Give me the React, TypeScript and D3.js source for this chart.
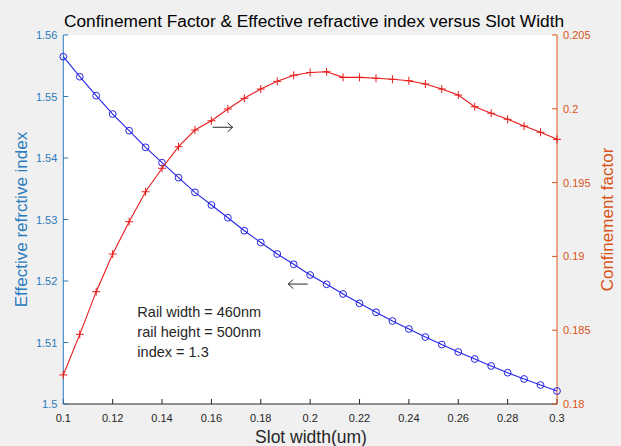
import React from "react";
import * as d3 from "d3";

const slotWidth: number[] = Array.from({ length: 31 }, (_, i) => +(0.1 + (i * 0.2) / 30).toFixed(5));

const effIndex: number[] = [
  1.55647, 1.55322, 1.55013, 1.54715, 1.54444, 1.54174, 1.53924, 1.5368, 1.53442, 1.53236,
  1.53029, 1.52818, 1.52626, 1.52439, 1.52272, 1.52098, 1.51946, 1.51789, 1.51637, 1.51491,
  1.5135, 1.5122, 1.51089, 1.50967, 1.50846, 1.50732, 1.50618, 1.50509, 1.50407, 1.50309,
  1.50211,
];

const confFactor: number[] = [
  0.18197, 0.18472, 0.18761, 0.19016, 0.19235, 0.19438, 0.19597, 0.19743, 0.19856, 0.19919,
  0.19999, 0.20071, 0.20134, 0.20186, 0.20227, 0.20246, 0.20251, 0.20213, 0.20213, 0.20207,
  0.202, 0.2019, 0.20168, 0.20134, 0.20093, 0.20014, 0.1997, 0.19929, 0.19883, 0.19841,
  0.19793,
];

const xTicks: number[] = [0.1, 0.12, 0.14, 0.16, 0.18, 0.2, 0.22, 0.24, 0.26, 0.28, 0.3];
const yLeftTicks: number[] = [1.5, 1.51, 1.52, 1.53, 1.54, 1.55, 1.56];
const yRightTicks: number[] = [0.18, 0.185, 0.19, 0.195, 0.2, 0.205];

const titleText = "Confinement Factor & Effective refractive index versus Slot Width";
const xLabel = "Slot width(um)";
const yLeftLabel = "Effective refrctive index";
const yRightLabel = "Confinement factor";
const noteLines: string[] = ["Rail width = 460nm", "rail height = 500nm", "index = 1.3"];

// annotation positions in data coordinates (left axis)
const arrowRight = { x1: 0.1605, x2: 0.1686, y: 1.545 };
const arrowLeft = { x1: 0.1911, x2: 0.199, y: 1.5195 };
const notePos = { x: 0.13, y: 1.5142 };

const W = 621;
const H = 446;
const L = 63.3, R = 557, T = 35, B = 404;

const FONT = "'Liberation Sans', Arial, Helvetica, sans-serif";
const BLUE_AX = "#2a7bbd";
const ORANGE_AX = "#d95319";
const DARK = "#262626";
const BLUE = "#2626e6";
const RED = "#e81a1a";

export default function App() {
  const x = d3.scaleLinear().domain([0.1, 0.3]).range([L, R]);
  const yL = d3.scaleLinear().domain([1.5, 1.56]).range([B, T]);
  const yR = d3.scaleLinear().domain([0.18, 0.205]).range([B, T]);

  const blueLine = d3
    .line<number>()
    .x((_, i) => x(slotWidth[i]))
    .y((d) => yL(d))(effIndex) as string;
  const redLine = d3
    .line<number>()
    .x((_, i) => x(slotWidth[i]))
    .y((d) => yR(d))(confFactor) as string;

  const tl = 5;

  const arrowPath = (a: { x1: number; x2: number; y: number }, dir: number) => {
    const y = yL(a.y);
    const x1 = x(a.x1);
    const x2 = x(a.x2);
    const tip = dir > 0 ? x2 : x1;
    const back = dir > 0 ? tip - 5 : tip + 5;
    return `M${x1},${y}L${x2},${y}M${back},${y - 4.5}L${tip},${y}L${back},${y + 4.5}`;
  };

  return (
    <svg
      width={W}
      height={H}
      style={{ position: "absolute", left: 0, top: 0, background: "#f0f0f0" }}
      fontFamily={FONT}
    >
      <rect x={0} y={0} width={W} height={H} fill="#f0f0f0" />
      <rect x={L} y={T} width={R - L} height={B - T} fill="#ffffff" />

      {/* title */}
      <text x={314} y={27} textAnchor="middle" fontSize={17.3} fill="#000">
        {titleText}
      </text>

      {/* bottom axis */}
      <line x1={L} x2={R} y1={B} y2={B} stroke={DARK} strokeWidth={1} />
      {xTicks.map((t) => (
        <g key={"xt" + t}>
          <line x1={x(t)} x2={x(t)} y1={B} y2={B - tl} stroke={DARK} strokeWidth={1} />
          <text x={x(t)} y={B + 17.5} textAnchor="middle" fontSize={11} fill={DARK}>
            {String(t)}
          </text>
        </g>
      ))}
      <text x={311} y={443} textAnchor="middle" fontSize={17.5} fill={DARK}>
        {xLabel}
      </text>

      {/* left axis */}
      <line x1={L} x2={L} y1={T} y2={B} stroke={BLUE_AX} strokeWidth={1} />
      {yLeftTicks.map((t) => (
        <g key={"yl" + t}>
          <line x1={L} x2={L + tl} y1={yL(t)} y2={yL(t)} stroke={BLUE_AX} strokeWidth={1} />
          <text x={L - 6} y={yL(t) + 4} textAnchor="end" fontSize={11} fill={BLUE_AX}>
            {String(t)}
          </text>
        </g>
      ))}
      <text
        transform={`translate(27,${(T + B) / 2}) rotate(-90)`}
        textAnchor="middle"
        fontSize={17}
        fill={BLUE_AX}
      >
        {yLeftLabel}
      </text>

      {/* right axis */}
      <line x1={R} x2={R} y1={T} y2={B} stroke={ORANGE_AX} strokeWidth={1} />
      {yRightTicks.map((t) => (
        <g key={"yr" + t}>
          <line x1={R} x2={R - tl} y1={yR(t)} y2={yR(t)} stroke={ORANGE_AX} strokeWidth={1} />
          <text x={R + 6} y={yR(t) + 4} textAnchor="start" fontSize={11} fill={ORANGE_AX}>
            {String(t)}
          </text>
        </g>
      ))}
      <text
        transform={`translate(613,${(T + B) / 2}) rotate(-90)`}
        textAnchor="middle"
        fontSize={17}
        fill={ORANGE_AX}
      >
        {yRightLabel}
      </text>

      {/* blue series */}
      <path d={blueLine} fill="none" stroke={BLUE} strokeWidth={1.1} />
      {effIndex.map((v, i) => (
        <circle
          key={"c" + i}
          cx={x(slotWidth[i])}
          cy={yL(v)}
          r={3.4}
          fill="none"
          stroke={BLUE}
          strokeWidth={1}
        />
      ))}

      {/* red series */}
      <path d={redLine} fill="none" stroke={RED} strokeWidth={1.1} />
      {confFactor.map((v, i) => {
        const cx = x(slotWidth[i]);
        const cy = yR(v);
        return (
          <path
            key={"p" + i}
            d={`M${cx - 4},${cy}L${cx + 4},${cy}M${cx},${cy - 4}L${cx},${cy + 4}`}
            stroke={RED}
            strokeWidth={1}
          />
        );
      })}

      {/* arrows */}
      <path d={arrowPath(arrowRight, 1)} fill="none" stroke={DARK} strokeWidth={1} />
      <path d={arrowPath(arrowLeft, -1)} fill="none" stroke={DARK} strokeWidth={1} />

      {/* note */}
      {noteLines.map((s, i) => (
        <text key={"n" + i} x={x(notePos.x)} y={yL(notePos.y) + i * 20} fontSize={14.5} fill={DARK}>
          {s}
        </text>
      ))}
    </svg>
  );
}
